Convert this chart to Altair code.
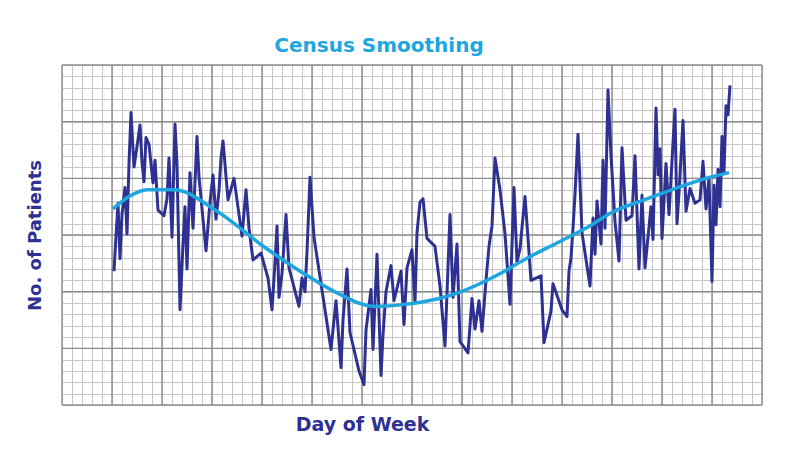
import altair as alt
import pandas as pd

# Noisy daily census (chart units: x 0-70, y 0-30)
noisy_day = [5.2, 5.4, 5.6, 5.8, 6.0, 6.3, 6.5, 6.7, 6.9, 7.2,
             7.5, 7.8, 8.0, 8.2, 8.4, 8.7, 9.1, 9.3, 9.6, 10.2,
             10.5, 10.7, 11.0, 11.3, 11.5, 11.8, 12.1, 12.3, 12.5, 12.8,
             13.1, 13.5, 13.7, 14.4, 14.8, 15.1, 15.4, 15.7, 15.9, 16.1,
             16.6, 17.2, 18.0, 18.4, 18.7, 19.1, 19.9, 20.6, 21.0, 21.3,
             21.5, 21.7, 22.0, 22.4, 22.7, 23.7, 24.0, 24.3, 24.5, 24.8,
             25.2, 26.9, 27.4, 27.9, 28.1, 28.5, 28.8, 29.7, 30.2, 30.4,
             30.9, 31.1, 31.5, 31.9, 32.1, 32.4, 32.9, 33.2, 33.9, 34.2,
             34.5, 35.0, 35.3, 35.5, 35.8, 36.1, 36.5, 37.3, 37.8, 38.3,
             38.8, 39.1, 39.5, 39.8, 40.6, 41.0, 41.3, 41.7, 42.0, 42.4,
             42.7, 43.0, 43.3, 43.8, 44.3, 44.8, 45.2, 45.5, 45.8, 46.3,
             46.9, 47.9, 48.2, 48.9, 49.1, 50.0, 50.5, 50.7, 50.9, 51.1,
             51.3, 51.6, 52.0, 52.8, 53.1, 53.3, 53.5, 53.9, 54.1, 54.3,
             54.6, 54.9, 55.3, 55.7, 56.0, 56.4, 57.0, 57.3, 57.7, 58.0,
             58.3, 58.9, 59.1, 59.4, 59.6, 59.8, 60.0, 60.4, 60.7, 61.1,
             61.3, 61.5, 61.7, 62.1, 62.4, 62.8, 63.3, 63.8, 64.1, 64.4,
             64.7, 65.0, 65.2, 65.4, 65.6, 65.8, 66.0, 66.2, 66.4, 66.6,
             66.8]
noisy_patients = [11.8, 14.9, 17.8, 12.9, 16.8, 19.2, 15.1, 21.3, 25.8, 21.0,
                  22.8, 24.7, 21.4, 19.7, 23.6, 23.0, 19.6, 21.6, 17.2, 16.7,
                  18.2, 21.8, 14.8, 24.8, 21.3, 8.4, 14.2, 17.5, 12.0, 20.5,
                  15.6, 23.7, 20.1, 13.6, 17.9, 20.3, 16.4, 18.9, 21.8, 23.3,
                  18.1, 20.0, 14.9, 19.0, 15.6, 12.8, 13.4, 11.2, 8.4, 12.6,
                  15.8, 9.5, 11.6, 16.8, 12.1, 8.7, 11.2, 10.0, 13.5, 20.1,
                  14.8, 4.9, 9.2, 3.3, 7.5, 12.0, 6.4, 3.0, 1.8, 6.6,
                  10.2, 4.9, 13.3, 2.6, 6.2, 10.0, 12.3, 9.2, 11.8, 7.1,
                  12.1, 13.7, 9.0, 15.2, 17.9, 18.2, 14.7, 14.0, 10.5, 5.2,
                  16.8, 9.5, 14.2, 5.6, 4.6, 9.4, 6.7, 9.2, 6.5, 11.0,
                  14.0, 15.8, 21.8, 19.0, 15.1, 8.9, 19.2, 12.6, 13.8, 18.4,
                  11.0, 11.4, 5.5, 8.3, 10.7, 8.4, 7.8, 11.8, 13.0, 15.6,
                  18.6, 23.9, 15.2, 10.5, 16.5, 13.3, 18.0, 14.2, 21.6, 15.6,
                  27.8, 22.0, 16.2, 12.7, 22.7, 16.3, 16.7, 22.0, 12.0, 18.5,
                  12.1, 17.5, 14.6, 26.2, 20.3, 22.6, 14.7, 21.3, 16.8, 23.1,
                  26.1, 16.0, 18.7, 25.1, 17.1, 19.1, 17.8, 18.1, 21.5, 17.3,
                  20.0, 10.9, 19.4, 15.9, 20.8, 17.5, 23.7, 20.5, 26.4, 25.6,
                  28.2]

# Smoothed census curve
smooth_day = [5.1, 6.7, 8.5, 11.2, 15.5, 20.3, 24.0, 27.7, 31.2, 34.5, 37.7,
              40.2, 43.4, 46.4, 49.5, 52.6, 55.0, 58.2, 61.3, 64.4, 66.7]
smooth_patients = [17.3, 18.4, 19.0, 19.0, 17.1, 13.9, 11.7, 9.8, 8.7, 8.9, 9.4,
                   10.1, 11.4, 12.9, 14.3, 15.7, 17.0, 18.1, 19.1, 20.0, 20.5]

# Grid lines (chart units)
minor_x = list(range(0, 71))
minor_y = list(range(0, 31))
major_x = list(range(0, 71, 5))
major_y = list(range(0, 31, 5))

NAVY = "#2E3192"
LIGHT_BLUE = "#1DA6DF"
FONT = "DejaVu Sans"

noisy_df = pd.DataFrame({"day": noisy_day, "patients": noisy_patients})
smooth_df = pd.DataFrame({"day": smooth_day, "patients": smooth_patients})

x_scale = alt.Scale(domain=[0, 70], nice=False, zero=False)
y_scale = alt.Scale(domain=[0, 30], nice=False, zero=False)

x_axis = alt.Axis(values=minor_x, labels=False, ticks=False, domain=False,
                  grid=True, gridColor="#c6c6c6", gridWidth=1,
                  title="Day of Week", titleFont=FONT, titleFontSize=19,
                  titleFontWeight="bold", titleColor=NAVY, titlePadding=10,
                  titleX=300)
y_axis = alt.Axis(values=minor_y, labels=False, ticks=False, domain=False,
                  grid=True, gridColor="#c6c6c6", gridWidth=1,
                  title="No. of Patients", titleFont=FONT, titleFontSize=18,
                  titleFontWeight="bold", titleColor=NAVY, titlePadding=18)

vmajor = alt.Chart(pd.DataFrame({"day": major_x})).mark_rule(
    color="#8c8c8c", strokeWidth=1.4
).encode(x=alt.X("day:Q", scale=x_scale, axis=x_axis))

hmajor = alt.Chart(pd.DataFrame({"patients": major_y})).mark_rule(
    color="#8c8c8c", strokeWidth=1.4
).encode(y=alt.Y("patients:Q", scale=y_scale, axis=y_axis))

noisy = alt.Chart(noisy_df).mark_line(
    color=NAVY, strokeWidth=3, strokeJoin="round"
).encode(x=alt.X("day:Q", scale=x_scale, axis=x_axis),
         y=alt.Y("patients:Q", scale=y_scale, axis=y_axis))

smooth = alt.Chart(smooth_df).mark_line(
    color=LIGHT_BLUE, strokeWidth=3.5, interpolate="monotone"
).encode(x=alt.X("day:Q", scale=x_scale, axis=x_axis),
         y=alt.Y("patients:Q", scale=y_scale, axis=y_axis))

chart = alt.layer(vmajor, hmajor, noisy, smooth).properties(
    width=700, height=340,
    title=alt.TitleParams("Census Smoothing", font=FONT, fontSize=20,
                          fontWeight="bold", color=LIGHT_BLUE, anchor="middle",
                          dx=-33, offset=8),
    autosize=alt.AutoSizeParams(type="none"),
    padding={"left": 54, "top": 57, "right": 10, "bottom": 40},
).configure_view(stroke=None).configure(background="white")

chart.save("out.html", embed_options={"renderer": "svg", "actions": False})
